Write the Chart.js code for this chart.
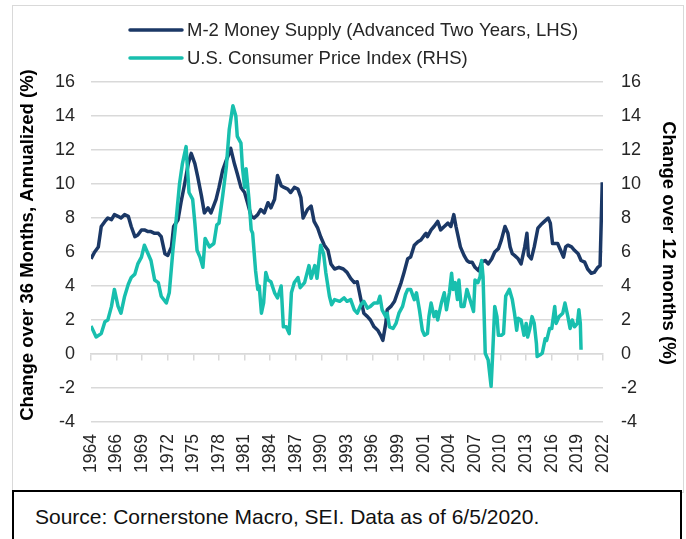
<!DOCTYPE html>
<html>
<head>
<meta charset="utf-8">
<script src="https://cdn.jsdelivr.net/npm/chart.js@4/dist/chart.umd.min.js"></script>
<style>
  body { margin: 0; background: #fff; }
  #wrap { position: relative; width: 686px; height: 539px; overflow: hidden; font-family: 'Liberation Sans', Arial, sans-serif; }
  #chartBox { position: absolute; left: 0; top: 0; width: 686px; height: 539px; }
  #frame { position: absolute; left: 12px; top: 5px; width: 670px; height: 486px; border: 1px solid #d9d9d9; pointer-events: none; }
  #source { position: absolute; left: 12px; top: 490px; width: 670px; height: 60px; border: 2px solid #000; background: #fff;
            font-size: 21px; color: #111; padding: 13px 0 0 21px; box-sizing: border-box; }
</style>
</head>
<body>
<div id="wrap">
  <div id="chartBox"><canvas id="grafico"></canvas></div>
  <div id="frame"></div>
  <div id="source">Source: Cornerstone Macro, SEI. Data as of 6/5/2020.</div>
</div>
<script>
// meses contados a partir de jan/1964
const m2Months = [0, 5, 10, 14, 19, 23, 28, 32, 37, 41, 46, 51, 55, 60, 64, 69, 73, 78, 82, 87, 92, 96, 101, 105, 110, 113, 119, 123, 128, 133, 137, 142, 146, 151, 155, 160, 164, 171,
  175, 180, 185, 189, 191, 196, 200, 205, 210, 214, 219, 223, 228, 232, 237, 242, 246, 251, 255, 260, 264, 269, 273, 278, 283, 287, 290, 296, 301, 305, 310, 314, 319, 324, 328, 333, 339,
  345, 350, 355, 360, 364, 369, 373, 378, 382, 387, 392, 396, 399, 403, 405, 410, 415, 419, 424, 428, 433, 437, 442, 447, 451, 456, 458, 460, 465, 469, 474, 478, 483, 488, 492, 496, 499, 502, 505, 510, 514, 517,
  521, 525, 530, 534, 539, 543, 548, 552, 557, 561, 566, 570, 573, 576, 579, 584, 588, 593, 596, 598, 602, 606, 611, 615, 620, 625, 628, 631, 633, 638, 642, 646, 649, 652, 657, 661, 666, 670, 675, 679, 684, 688, 693, 696, 699];
const m2Values = [5.6, 6.0, 6.3, 7.5, 7.8, 8.0, 7.9, 8.2, 8.1, 8.0, 8.2, 8.1, 7.5, 6.9, 7.0, 7.3, 7.3, 7.2, 7.2, 7.1, 7.1, 6.9, 5.9, 5.8, 6.3, 7.5, 7.9, 8.9, 10.0, 11.2, 11.8, 11.2, 10.4, 9.3, 8.3, 8.6, 8.3, 9.1,
  9.8, 10.8, 11.4, 11.8, 12.1, 11.2, 10.6, 9.8, 9.5, 8.9, 8.1, 8.0, 8.2, 8.5, 8.3, 8.9, 8.6, 9.1, 10.5, 9.9, 9.8, 9.7, 9.5, 9.8, 9.7, 9.2, 8.0, 8.5, 8.7, 7.8, 7.4, 6.9, 6.4, 6.1, 5.3, 5.0, 5.1,
  5.0, 4.8, 4.45, 4.2, 4.25, 3.2, 2.4, 2.2, 2.0, 1.6, 1.4, 1.1, 0.8, 1.8, 2.6, 2.8, 3.1, 3.6, 4.2, 4.8, 5.6, 5.7, 6.4, 6.6, 6.7, 7.0, 7.1, 6.9, 7.3, 7.5, 7.8, 7.3, 7.5, 7.7, 7.5, 8.2, 7.5, 6.9, 6.3, 5.8, 5.5, 5.4,
  5.4, 5.1, 4.9, 5.4, 5.5, 5.3, 5.6, 6.0, 6.2, 6.7, 7.5, 7.1, 6.3, 5.9, 5.8, 5.6, 5.3, 6.3, 7.1, 5.8, 5.6, 6.3, 7.4, 7.6, 7.8, 8.0, 7.7, 6.5, 6.5, 6.5, 6.1, 5.7, 6.3, 6.4, 6.3, 6.1, 5.9, 5.5, 5.4, 5.0, 4.75, 4.8, 5.1, 5.2, 10.1];

const cpiMonths = [0, 7, 14, 19, 23, 28, 32, 37, 41, 46, 51, 55, 60, 64, 69, 73, 78, 82, 87, 92, 96, 103, 107, 112, 116, 121, 125, 130, 134, 139, 142, 145, 149, 153, 156, 162, 168, 172,
  175, 180, 185, 189, 194, 198, 200, 205, 207, 210, 212, 216, 219, 221, 225, 228, 230, 233, 236, 239, 242, 246, 251, 255, 260, 263, 267, 271, 274, 278, 283, 286, 292, 298, 301, 306, 309, 314, 318, 321, 326, 329, 333, 340,
  346, 350, 355, 360, 364, 369, 373, 378, 382, 387, 392, 395, 398, 403, 405, 408, 413, 417, 421, 426, 430, 433, 437, 442, 445, 449, 453, 456, 460, 462, 465, 469, 472, 474, 479, 483, 486, 490, 493, 495, 498, 501, 503, 506, 510, 514,
  521, 523, 525, 529, 532, 534, 536, 539, 543, 547, 549, 552, 555, 557, 561, 564, 567, 572, 576, 579, 582, 584, 588, 592, 595, 597, 600, 603, 606, 609, 610, 614, 617, 621, 623, 627, 630, 634, 636, 640, 645, 648, 652, 655, 658, 661, 665, 667, 669, 670];
const cpiValues = [1.65, 1.0, 1.2, 1.9, 2.0, 2.8, 3.8, 2.8, 2.4, 3.4, 4.1, 4.5, 4.7, 5.3, 5.7, 6.4, 5.9, 5.5, 4.35, 4.2, 3.4, 3.0, 3.6, 6.1, 7.7, 10.0, 11.2, 12.2, 9.5, 9.1, 7.7, 6.1, 5.7, 5.1, 6.8, 6.3, 6.5, 7.6,
  7.7, 9.3, 11.0, 13.2, 14.6, 14.0, 12.8, 12.4, 11.0, 9.8, 10.9, 9.1, 7.3, 7.1, 4.9, 3.8, 4.0, 2.4, 3.0, 4.8, 4.35, 4.25, 3.6, 3.3, 4.0, 1.6, 1.6, 1.2, 3.6, 4.2, 4.5, 3.9, 4.2, 5.2, 4.45, 5.2, 4.45, 6.4, 5.9, 4.8, 3.4, 2.9, 3.2, 3.1,
  3.3, 3.1, 3.2, 2.6, 2.4, 2.9, 3.1, 2.7, 2.8, 3.0, 3.0, 3.4, 2.6, 2.2, 2.4, 1.6, 1.5, 1.8, 2.4, 2.8, 3.5, 3.8, 3.8, 3.2, 3.6, 2.6, 1.4, 1.1, 1.2, 2.2, 3.0, 2.2, 2.5, 2.0, 3.0, 3.6, 2.6, 3.6, 4.75, 3.8, 4.2, 3.2, 4.35, 2.8, 2.8, 3.8,
  2.8, 2.5, 4.35, 4.2, 4.55, 5.5, 4.55, 0.04, -0.35, -1.9, -0.15, 2.8, 2.2, 1.1, 1.1, 1.2, 3.4, 3.8, 3.2, 2.4, 1.4, 2.1, 2.0, 1.1, 1.8, 1.0, 1.5, 2.2, 1.8, 0.6, -0.15, -0.05, 0.05, 0.9, 0.8, 1.5, 1.5, 2.8, 1.8, 2.2, 2.4, 3.0, 2.2, 1.5, 2.0, 1.6, 1.8, 2.6, 1.8, 0.25];

const yearTicks = ['1964', '1966', '1969', '1972', '1975', '1978', '1981', '1984', '1987', '1990', '1993', '1996', '1999', '2001', '2004', '2007', '2010', '2013', '2016', '2019', '2022'];
const seriesLabels = ['M-2 Money Supply (Advanced Two Years, LHS)', 'U.S. Consumer Price Index (RHS)'];
const leftTitle = 'Change over 36 Months, Annualized (%)';
const rightTitle = 'Change over 12 months (%)';

const corM2 = '#1b3866';
const corCpi = '#18bfae';
const corGrade = '#d9d9d9';
const corTexto = '#262626';
const fonte = "'Liberation Sans', Arial, sans-serif";

const toPoints = (xs, ys) => xs.map((x, i) => ({ x: x, y: ys[i] }));

// legenda e títulos dos eixos desenhados à mão (layout do Excel)
const extras = {
  id: 'extras',
  afterDraw(chart) {
    const ctx = chart.ctx;
    const area = chart.chartArea;
    ctx.save();
    ctx.font = '18.5px ' + fonte;
    ctx.textBaseline = 'middle';
    ctx.lineCap = 'round';
    chart.data.datasets.forEach((ds, i) => {
      const y = 30 + i * 28;
      ctx.strokeStyle = ds.borderColor;
      ctx.lineWidth = 3.5;
      ctx.beginPath();
      ctx.moveTo(130, y);
      ctx.lineTo(182, y);
      ctx.stroke();
      ctx.fillStyle = corTexto;
      ctx.textAlign = 'left';
      ctx.fillText(ds.label, 187, y + 1);
    });
    ctx.font = 'bold 18.5px ' + fonte;
    ctx.textAlign = 'center';
    ctx.fillStyle = '#000';
    ctx.translate(28, 245);
    ctx.rotate(-Math.PI / 2);
    ctx.fillText(leftTitle, 0, 0);
    ctx.restore();
    ctx.save();
    ctx.font = 'bold 18.5px ' + fonte;
    ctx.textAlign = 'center';
    ctx.textBaseline = 'middle';
    ctx.fillStyle = '#000';
    ctx.translate(668, 243);
    ctx.rotate(Math.PI / 2);
    ctx.fillText(rightTitle, 0, 0);
    ctx.restore();
  }
};

const ctx = document.getElementById('grafico').getContext('2d');
new Chart(ctx, {
  type: 'line',
  data: {
    datasets: [{
      label: seriesLabels[0],
      data: toPoints(m2Months, m2Values),
      borderColor: corM2,
      borderWidth: 3.5,
      pointRadius: 0,
      tension: 0,
      borderJoinStyle: 'round',
      yAxisID: 'y',
      order: 1
    }, {
      label: seriesLabels[1],
      data: toPoints(cpiMonths, cpiValues),
      borderColor: corCpi,
      borderWidth: 3.5,
      pointRadius: 0,
      tension: 0,
      borderJoinStyle: 'round',
      yAxisID: 'y2',
      order: 0
    }]
  },
  options: {
    responsive: true,
    maintainAspectRatio: false,
    animation: false,
    layout: { padding: { top: 82, left: 0, right: 0, bottom: 0 } },
    plugins: { legend: { display: false }, tooltip: { enabled: false } },
    scales: {
      x: {
        type: 'linear',
        min: 0,
        max: 700,
        position: 'bottom',
        grid: { display: false, drawTicks: false },
        border: { display: false },
        ticks: {
          stepSize: 35,
          autoSkip: false,
          minRotation: 90,
          maxRotation: 90,
          padding: 12,
          color: corTexto,
          font: { family: fonte, size: 17.5 },
          callback: (v, i) => yearTicks[i]
        },
        afterFit: (s) => { s.height = 117; }
      },
      // eixo no zero, só com as marquinhas
      xZero: {
        type: 'linear',
        min: 0,
        max: 700,
        position: { y: 0 },
        grid: { drawOnChartArea: false, drawTicks: true, tickLength: 6, color: corGrade, lineWidth: 1.5 },
        border: { display: true, color: corGrade, width: 1.5 },
        ticks: { display: false, stepSize: 35, autoSkip: false }
      },
      y: {
        position: 'left',
        min: -4,
        max: 16,
        grid: { color: corGrade, lineWidth: 1.5, drawTicks: false },
        border: { display: false },
        ticks: { stepSize: 2, padding: 16, color: corTexto, font: { family: fonte, size: 18 } },
        afterFit: (s) => { s.width = 91; }
      },
      y2: {
        position: 'right',
        min: -4,
        max: 16,
        grid: { drawOnChartArea: false, drawTicks: false },
        border: { display: false },
        ticks: { stepSize: 2, padding: 18, color: corTexto, font: { family: fonte, size: 18 } },
        afterFit: (s) => { s.width = 83; }
      }
    }
  },
  plugins: [extras]
});
</script>
</body>
</html>
